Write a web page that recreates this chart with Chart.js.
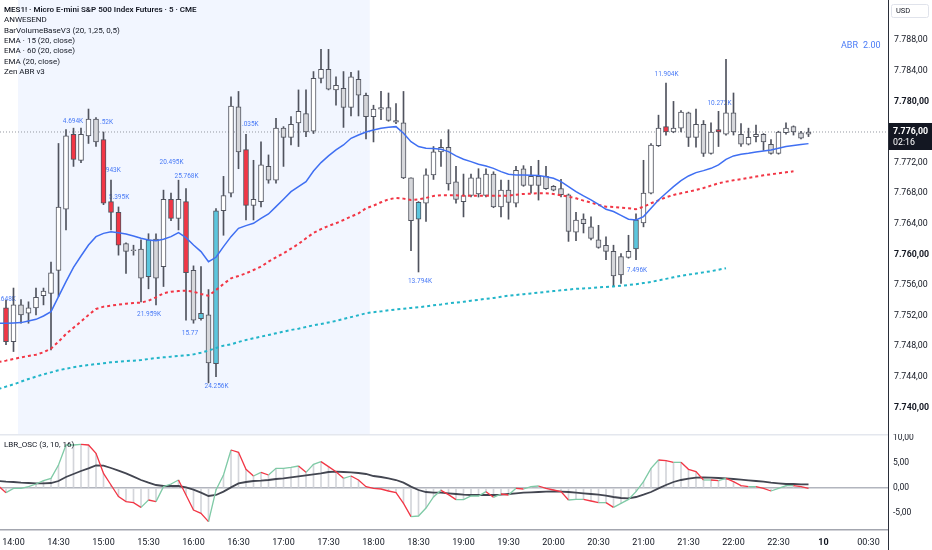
<!DOCTYPE html>
<html><head><meta charset="utf-8">
<script src="https://cdn.jsdelivr.net/npm/chart.js@4.4.1/dist/chart.umd.min.js"></script>
<style>
html,body{margin:0;padding:0;background:#fff;}
#wrap{position:relative;width:932px;height:550px;overflow:hidden;background:#fff;}
canvas{position:absolute;left:0;}
#cA{top:0;} #cB{top:434px;}
</style></head><body>
<div id="wrap"><canvas id="cA" width="932" height="434"></canvas><canvas id="cB" width="932" height="116"></canvas></div>
<script>
// ---------- DATA ----------
// bar index 0 = 14:00, one bar = 5 minutes
const tickBars   = [0,6,12,18,24,30,36,42,48,54,60,66,72,78,84,90,96,102,108,114];
const tickLabels = ['14:00','14:30','15:00','15:30','16:00','16:30','17:00','17:30','18:00','18:30','19:00','19:30','20:00','20:30','21:00','21:30','22:00','22:30','10','00:30'];
const priceTicks = [7740,7744,7748,7752,7756,7760,7764,7768,7772,7776,7780,7784,7788];
const oscTicks   = [-5,0,5,10];
const lastPrice  = 7776;

const candleFirst = -1;
const candleOpen = [7753.0,7748.6,7753.4,7752.3,7753.0,7754.6,7754.9,7757.9,7765.9,7775.7,
 7772.3,7775.5,7777.7,7775.0,7766.9,7765.5,7761.4,7760.6,7760.7,7757.1,
 7762.0,7758.4,7767.2,7764.7,7766.9,7757.9,7751.6,7752.1,7745.7,7765.7,
 7768.0,7779.3,7773.7,7766.4,7766.9,7771.5,7769.7,7776.5,7775.3,7777.2,
 7778.4,7776.1,7783.0,7784.2,7781.5,7781.7,7779.2,7782.9,7780.8,7778.0,
 7779.0,7779.2,7777.5,7777.2,7770.0,7764.6,7766.7,7770.4,7773.4,7774.0,
 7769.5,7766.9,7767.7,7767.9,7767.7,7770.5,7766.2,7768.4,7766.7,7771.2,
 7769.0,7770.2,7770.2,7768.9,7768.6,7767.8,7762.9,7764.6,7763.6,7761.9,
 7761.2,7760.4,7759.7,7759.6,7760.7,7764.1,7768.0,7774.2,7776.7,7776.0,
 7776.5,7778.5,7775.3,7777.0,7773.2,7776.3,7775.7,7778.5,7775.7,7774.4,
 7775.4,7775.7,7774.4,7773.2,7775.9,7776.7,7775.9,7775.7];
const candleHigh = [7754.0,7755.6,7754.1,7753.8,7755.6,7755.6,7759.0,7774.5,7776.3,7776.5,
 7776.5,7779.0,7777.9,7776.0,7769.7,7766.2,7761.5,7761.2,7761.9,7762.7,
 7762.7,7768.4,7768.0,7769.7,7768.6,7758.5,7758.4,7755.4,7766.0,7770.2,
 7780.6,7781.3,7775.7,7772.3,7774.7,7773.0,7777.8,7776.7,7778.0,7781.5,
 7781.5,7783.9,7786.8,7786.8,7783.2,7783.9,7783.8,7784.0,7781.1,7779.5,
 7781.3,7781.1,7779.7,7781.3,7770.0,7766.9,7771.2,7774.1,7775.0,7776.3,
 7771.5,7770.5,7770.5,7771.2,7771.2,7770.8,7769.7,7769.7,7771.5,7771.6,
 7771.5,7772.3,7771.5,7769.0,7769.8,7767.9,7765.5,7765.3,7764.9,7763.8,
 7762.3,7761.2,7760.1,7762.5,7765.3,7772.3,7774.5,7778.2,7782.4,7780.0,
 7778.8,7778.6,7779.0,7777.5,7777.2,7778.7,7785.5,7781.1,7777.1,7776.5,
 7776.9,7775.8,7775.0,7776.1,7777.2,7776.8,7776.1,7776.5];
const candleLow = [7748.2,7747.3,7751.0,7751.0,7752.1,7753.4,7747.5,7754.5,7763.2,7771.5,
 7772.0,7774.5,7774.1,7766.5,7763.2,7759.9,7757.5,7759.9,7753.8,7755.5,
 7753.4,7755.8,7764.4,7763.2,7751.4,7751.0,7751.4,7743.2,7744.0,7762.5,
 7767.5,7771.2,7764.5,7764.5,7766.2,7769.3,7769.3,7771.5,7774.3,7774.1,
 7775.4,7775.8,7782.4,7781.5,7779.5,7776.6,7778.1,7778.1,7775.1,7774.7,
 7777.6,7777.4,7777.1,7769.9,7760.5,7757.7,7764.3,7769.8,7771.5,7768.4,
 7766.7,7764.9,7767.5,7767.5,7767.5,7766.1,7764.9,7764.6,7766.2,7768.9,
 7768.0,7767.1,7768.5,7768.3,7767.5,7761.7,7761.8,7762.8,7761.9,7760.8,
 7759.3,7755.8,7756.2,7759.5,7759.3,7763.6,7767.9,7774.1,7775.6,7775.9,
 7776.0,7774.1,7774.0,7772.8,7773.1,7774.1,7775.6,7775.6,7774.1,7774.3,
 7774.7,7773.6,7773.1,7773.1,7775.7,7775.6,7775.1,7775.4];
const candleClose = [7748.6,7753.4,7752.1,7753.0,7754.4,7755.2,7757.6,7766.2,7775.5,7772.4,
 7775.7,7777.7,7774.7,7766.7,7765.5,7761.2,7760.4,7760.5,7756.9,7761.9,
 7756.9,7767.2,7764.7,7767.2,7757.6,7751.4,7752.3,7745.8,7765.7,7767.7,
 7779.4,7773.4,7766.4,7767.2,7771.7,7769.7,7776.5,7775.3,7777.0,7778.7,
 7776.0,7783.0,7784.2,7781.6,7782.1,7779.2,7783.2,7780.8,7778.0,7779.0,
 7779.2,7777.5,7777.3,7770.0,7764.4,7766.8,7770.4,7773.4,7774.0,7769.2,
 7767.2,7767.7,7770.0,7770.0,7770.5,7766.2,7768.4,7766.8,7771.0,7769.0,
 7770.2,7769.0,7768.6,7768.4,7767.8,7763.0,7764.5,7764.0,7762.1,7760.9,
 7760.4,7757.2,7757.3,7760.4,7764.5,7768.0,7774.3,7776.5,7776.0,7776.5,
 7778.6,7775.3,7777.0,7773.2,7776.0,7776.0,7778.5,7776.0,7774.4,7775.3,
 7775.7,7774.7,7773.2,7776.0,7776.5,7776.0,7775.2,7776.0];
const highVolumeBars = [-1,8,12,13,14,18,21,23,25,27,31,54,83,87,94];

const lineFirst = -2;
const emaClose20 = [7751.0,7751.0,7751.03,7751.08,7751.29,7751.51,7751.95,7752.51,7754.47,7756.43,
 7758.31,7759.79,7761.23,7762.32,7762.75,7762.97,7762.84,7762.66,7762.40,7762.10,
 7761.88,7761.79,7761.97,7762.32,7762.84,7762.19,7761.23,7760.36,7759.05,7759.62,
 7761.01,7762.32,7763.41,7763.76,7764.06,7764.71,7765.28,7766.24,7767.20,7768.20,
 7768.85,7769.51,7770.9,7772.0,7772.87,7773.65,7774.30,7775.18,7775.61,7776.0,
 7776.27,7776.48,7776.61,7776.70,7775.83,7774.74,7774.09,7773.87,7773.83,7773.74,
 7773.43,7772.87,7772.43,7772.13,7771.78,7771.56,7771.25,7770.82,7770.47,7770.38,
 7770.38,7770.34,7770.30,7770.16,7769.95,7769.51,7768.86,7768.20,7767.64,7767.12,
 7766.55,7765.90,7765.6,7765.1,7764.59,7764.5,7764.94,7766.03,7767.12,7767.99,
 7768.86,7769.64,7770.25,7770.69,7770.95,7771.25,7771.69,7772.43,7772.87,7773.08,
 7773.21,7773.39,7773.52,7773.65,7773.87,7774.09,7774.22,7774.35,7774.48];
const ema15m = [7745.93,7746.11,7746.32,7746.54,7746.72,7746.89,7747.20,7747.68,7748.59,7749.59,
 7750.42,7751.21,7752.08,7752.86,7753.17,7753.30,7753.43,7753.56,7753.65,7753.69,
 7753.95,7754.39,7754.91,7755.13,7755.21,7755.26,7755.13,7754.82,7754.60,7755.34,
 7756.13,7756.87,7757.18,7757.52,7757.96,7758.40,7759.05,7759.62,7760.14,7760.75,
 7761.36,7762.10,7762.8,7763.3,7763.72,7764.07,7764.50,7764.94,7765.37,7766.03,
 7766.37,7766.81,7767.20,7767.38,7767.29,7767.12,7767.20,7767.38,7767.64,7767.73,
 7767.73,7767.73,7767.68,7767.68,7767.68,7767.68,7767.68,7767.68,7767.68,7767.81,
 7767.90,7767.94,7767.99,7767.99,7767.90,7767.73,7767.55,7767.33,7767.03,7766.77,
 7766.46,7766.24,7766.2,7766.1,7766.03,7765.90,7766.24,7766.68,7767.07,7767.46,
 7767.77,7767.99,7768.20,7768.42,7768.68,7768.99,7769.29,7769.51,7769.69,7769.82,
 7770.0,7770.17,7770.34,7770.47,7770.60,7770.73,7770.86];
const ema60m = [7742.40,7742.71,7743.01,7743.36,7743.71,7744.02,7744.32,7744.58,7744.85,7745.06,
 7745.24,7745.41,7745.54,7745.67,7745.76,7745.89,7745.98,7746.06,7746.11,7746.19,
 7746.32,7746.45,7746.54,7746.63,7746.72,7746.80,7746.93,7747.15,7747.41,7747.76,
 7748.07,7748.24,7748.55,7748.81,7749.03,7749.25,7749.46,7749.68,7749.90,7750.12,
 7750.29,7750.51,7750.73,7750.90,7751.1,7751.3,7751.55,7751.8,7752.05,7752.3,
 7752.45,7752.55,7752.7,7752.8,7752.9,7753.0,7753.1,7753.2,7753.35,7753.45,
 7753.6,7753.7,7753.8,7753.95,7754.05,7754.2,7754.3,7754.45,7754.6,7754.7,
 7754.8,7754.9,7755.0,7755.1,7755.2,7755.3,7755.4,7755.5,7755.55,7755.6,
 7755.7,7755.75,7755.8,7755.9,7756.0,7756.1,7756.25,7756.4,7756.6,7756.8,
 7757.0,7757.2,7757.35,7757.5,7757.65,7757.8,7758.0,7758.2];

const oscFast = [0.4,-0.93,-0.07,-0.07,0.27,0.8,1.47,1.93,4.6,8.6,
 8.6,8.73,8.6,6.93,2.93,0.6,-1.73,-2.73,-2.93,-3.87,
 -2.4,-2.73,0.27,0.8,1.6,-1.4,-4.4,-5.07,-6.73,-0.4,
 2.6,7.6,7.13,3.73,2.4,3.13,2.6,3.93,3.93,4.13,
 4.4,3.13,4.73,5.27,4.27,3.27,1.93,2.4,1.6,0.27,
 -0.07,-0.2,-0.6,-0.93,-3.07,-5.73,-5.6,-4.0,-1.8,-0.47,
 -1.33,-2.33,-2.33,-1.6,-1.6,-0.73,-1.87,-1.2,-1.4,-0.07,
 -0.2,0.27,0.4,-0.07,-0.4,-0.73,-2.4,-2.27,-2.27,-2.6,
 -2.93,-2.93,-3.87,-3.07,-2.27,-0.73,1.27,3.93,5.6,5.47,
 5.13,5.13,3.73,3.27,1.6,1.6,1.47,1.93,1.27,0.47,
 0.27,0.27,-0.07,-0.6,-0.07,0.47,0.47,0.27,-0.07];
const oscSlow = [1.4,1.27,1.2,1.07,1.0,0.93,0.93,1.0,1.4,2.2,
 2.8,3.4,3.93,4.53,4.47,4.0,3.47,2.93,2.27,1.6,
 1.07,0.6,0.4,0.4,0.4,0.13,-0.33,-0.93,-1.6,-1.4,
 -0.73,0.13,0.93,1.2,1.4,1.47,1.6,1.8,1.93,2.13,
 2.33,2.53,2.73,2.93,3.2,3.27,3.2,3.13,3.0,2.8,
 2.4,2.2,1.93,1.6,1.07,0.27,-0.4,-0.8,-0.93,-0.93,
 -1.07,-1.2,-1.33,-1.4,-1.4,-1.4,-1.4,-1.33,-1.2,-1.07,
 -0.93,-0.87,-0.8,-0.73,-0.67,-0.73,-0.8,-0.93,-1.07,-1.2,
 -1.33,-1.53,-1.8,-2.0,-2.07,-1.8,-1.33,-0.8,-0.07,0.6,
 1.2,1.6,1.87,2.07,2.13,2.07,2.0,1.93,1.8,1.67,
 1.53,1.4,1.27,1.07,0.93,0.8,0.8,0.73,0.73];

const volLabelText  = ['.648K','4.694K','.52K','943K','5.395K','20.495K','25.768K','21.959K','15.77','24.256K','1.035K','13.794K','7.496K','11.904K','10.272K'];
const volLabelBar   = [-0.8,7.93,12.4,13.3,14.07,21.07,23.07,18.07,23.53,27.07,31.33,54.2,83.13,87.07,94.13];
const volLabelPrice = [7754.17,7777.44,7777.31,7771.03,7767.41,7771.99,7770.16,7752.17,7749.69,7742.71,7777.0,7756.52,7757.96,7783.54,7779.75];

const legendLines = ['MES1! · Micro E-mini S&P 500 Index Futures · 5 · CME','ANWESEND','BarVolumeBaseV3 (20, 1,25, 0,5)','EMA · 15 (20, close)','EMA · 60 (20, close)','EMA (20, close)','Zen ABR v3'];
const abrValue = '2.00';
const countdown = '02:16';
const shadeFrom = 0.6, shadeTo = 47.5;   // highlighted session (bar units)

// ---------- helpers ----------
const X_MIN = -1.8, X_MAX = 116.6;
const FONT = 'Roboto, "Noto Sans", sans-serif';
function fmt(v){
  const s = Math.abs(v).toFixed(2).split('.');
  return (v<0?'-':'') + s[0].replace(/\B(?=(\d{3})+(?!\d))/g,'.') + ',' + s[1];
}
const series = (arr, first) => arr.map((v,k)=>({x:first+k, y:v}));
const bodies = candleOpen.map((o,k)=>({x:candleFirst+k, y:[o, candleClose[k]]}));
const wicks  = candleLow.map((l,k)=>({x:candleFirst+k, y:[l, candleHigh[k]]}));
const bodyColors = candleOpen.map((o,k)=>{
  const up = candleClose[k] >= o;
  const hv = highVolumeBars.includes(candleFirst+k);
  return hv ? (up ? '#5cc6dd' : '#f23645') : (up ? '#ffffff' : '#d6d7db');
});

const paneA = {
  id:'paneA',
  beforeDatasetsDraw(chart){
    const {ctx, chartArea:a, scales:{x,y}} = chart;
    ctx.save();
    const x0 = x.getPixelForValue(shadeFrom), x1 = x.getPixelForValue(shadeTo);
    ctx.fillStyle = 'rgba(41,98,255,0.06)';
    ctx.fillRect(x0, a.top, x1-x0, a.bottom-a.top);
    ctx.font = '6.5px '+FONT; ctx.fillStyle = '#4a7bf6';
    ctx.textAlign = 'center'; ctx.textBaseline = 'middle';
    volLabelText.forEach((t,k)=>ctx.fillText(t, x.getPixelForValue(volLabelBar[k]), y.getPixelForValue(volLabelPrice[k])));
    ctx.restore();
  },
  afterDraw(chart){
    const {ctx, chartArea:a, scales:{y}} = chart;
    ctx.save();
    ctx.fillStyle = '#2a2e39'; ctx.fillRect(a.right, 0, 1, chart.height);
    ctx.textAlign='left'; ctx.textBaseline='middle'; ctx.fillStyle='#131722';
    legendLines.forEach((t,k)=>{
      ctx.font = (k===0?'600 ':'') + '8px '+FONT;
      ctx.fillText(t, 4, 10 + k*10.3);
    });
    ctx.fillStyle='#4a7bf6'; ctx.font='9px '+FONT;
    ctx.fillText('ABR', 841, 46); ctx.fillText(abrValue, 863, 46);
    ctx.strokeStyle='#e0e3eb'; ctx.lineWidth=1; ctx.fillStyle='#fff';
    ctx.beginPath(); ctx.roundRect(891.5,4.5,37,13,2); ctx.fill(); ctx.stroke();
    ctx.fillStyle='#131722'; ctx.font='7.5px '+FONT; ctx.fillText('USD', 896, 11);
    const py = y.getPixelForValue(lastPrice);
    ctx.fillStyle='#131722'; ctx.fillRect(a.right+1, py-9, 44, 27);
    ctx.fillStyle='#ffffff'; ctx.font='bold 8.8px '+FONT; ctx.fillText(fmt(lastPrice), 893, py);
    ctx.font='8.8px '+FONT; ctx.fillText(countdown, 893, py+11);
    ctx.restore();
  }
};

const paneB = {
  id:'paneB',
  afterDraw(chart){
    const {ctx, chartArea:a} = chart;
    ctx.save();
    ctx.fillStyle='#e4e7ee'; ctx.fillRect(0,0,a.right,1.5);
    ctx.fillStyle='#2a2e39'; ctx.fillRect(a.right, 0, 1, chart.height);
    ctx.fillStyle='#131722'; ctx.font='8px '+FONT; ctx.textAlign='left'; ctx.textBaseline='middle';
    ctx.fillText('LBR_OSC (3, 10, 16)', 4, 11);
    ctx.restore();
  }
};

Chart.defaults.font.family = FONT;

new Chart(document.getElementById('cA'), {
  type:'bar',
  data:{datasets:[
    {type:'line', data:series(emaClose20,lineFirst), borderColor:'#3f6ff2', borderWidth:1.5, pointRadius:0, order:1},
    {type:'line', data:series(ema15m,lineFirst), borderColor:'#f23645', borderWidth:2, borderDash:[3,3], pointRadius:0, order:2},
    {type:'line', data:series(ema60m,lineFirst), borderColor:'#22b5c9', borderWidth:2, borderDash:[3,3], pointRadius:0, order:3},
    {type:'bar', data:bodies, backgroundColor:bodyColors, borderColor:'#50535e', borderWidth:1, borderSkipped:false, barThickness:5, grouped:false, order:10},
    {type:'bar', data:wicks, backgroundColor:'#50535e', barThickness:1, grouped:false, order:11},
    {type:'line', data:[{x:-3,y:lastPrice},{x:120,y:lastPrice}], borderColor:'#9598a1', borderWidth:1, borderDash:[1,2], pointRadius:0, order:12}
  ]},
  options:{
    responsive:false, animation:false, events:[],
    layout:{padding:0},
    plugins:{legend:{display:false}, tooltip:{enabled:false}},
    scales:{
      x:{type:'linear', min:X_MIN, max:X_MAX, display:false, offset:false, bounds:'data'},
      y:{type:'linear', position:'right', min:7736.52, max:7793.255, bounds:'data',
         afterBuildTicks:s=>{s.ticks = priceTicks.map(v=>({value:v}));},
         afterFit:s=>{s.width=44; s.paddingTop=0; s.paddingBottom=0;},
         grid:{display:false, drawTicks:false}, border:{display:false},
         ticks:{padding:6, color:'#131722', callback:v=>fmt(v),
           font:c=>({family:FONT, size:8.8, weight:(c.tick && c.tick.value%20===0)?'bold':'normal'})}}
    }
  },
  plugins:[paneA]
});

new Chart(document.getElementById('cB'), {
  type:'bar',
  data:{datasets:[
    {type:'line', data:series(oscFast,lineFirst), borderColor:'#f23645', borderWidth:1.3, pointRadius:0, order:1,
     segment:{borderColor:c=> c.p1.parsed.y < c.p0.parsed.y ? '#f23645' : '#7fcaa6'}},
    {type:'line', data:series(oscSlow,lineFirst), borderColor:'#434651', borderWidth:1.8, pointRadius:0, order:2},
    {type:'bar', data:series(oscFast,lineFirst), backgroundColor:'#d3d5da', barThickness:1, grouped:false, order:3}
  ]},
  options:{
    responsive:false, animation:false, events:[],
    layout:{padding:{top:2,left:0,right:0,bottom:0}},
    plugins:{legend:{display:false}, tooltip:{enabled:false}},
    scales:{
      x:{type:'linear', position:'bottom', min:X_MIN, max:X_MAX, offset:false, bounds:'data',
         afterBuildTicks:s=>{s.ticks = tickBars.map(v=>({value:v}));},
         afterFit:s=>{s.height=20; s.paddingLeft=0; s.paddingRight=0;},
         grid:{display:false}, border:{display:true, color:'#a3a6af', width:1.5},
         ticks:{autoSkip:false, maxRotation:0, padding:-1, color:'#131722',
           callback:v=>tickLabels[tickBars.indexOf(v)],
           font:c=>({family:FONT, size:9, weight:(c.tick && c.tick.value===108)?'bold':'normal'})}},
      y:{type:'linear', position:'right', min:-8.4, max:10.4, bounds:'data',
         afterBuildTicks:s=>{s.ticks = oscTicks.map(v=>({value:v}));},
         afterFit:s=>{s.width=44; s.paddingTop=0; s.paddingBottom=0;},
         grid:{color:c=>(c.tick && c.tick.value===0)?'#b2b5be':'rgba(0,0,0,0)', lineWidth:1.5, drawTicks:false},
         border:{display:false},
         ticks:{padding:5, color:'#131722', font:{family:FONT, size:8.5}, callback:v=>fmt(v)}}
    }
  },
  plugins:[paneB]
});
</script>
</body></html>
